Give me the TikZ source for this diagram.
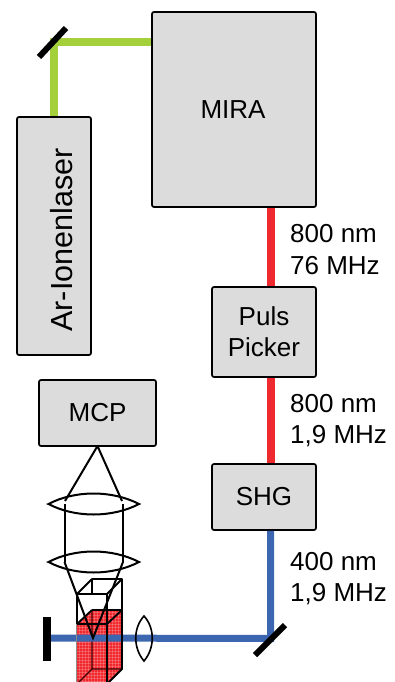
\documentclass[tikz,border=0pt]{standalone}
\usepackage{fontspec}
\setmainfont{Liberation Sans}
\begin{document}
\begin{tikzpicture}[x=1pt,y=-1pt,
  box/.style={draw=black,fill=boxgray,line width=1.7pt,rounded corners=2pt},
  boxlabel/.style={font=\fontsize{26}{31}\selectfont,align=center,text=black},
  beamlabel/.style={font=\fontsize{26}{31.5}\selectfont,align=left,anchor=west,inner sep=0pt,text=black},
  greenbeam/.style={draw=beamgreen,line width=7.5pt},
  redbeam/.style={draw=beamred,line width=8pt},
  bluebeam/.style={draw=beamblue,line width=7pt},
  mirror/.style={draw=black,line width=6pt},
  optic/.style={draw=black,line width=2pt},
  cuv/.style={draw=black,line width=1.9pt,line join=round}]
\definecolor{boxgray}{HTML}{DCDCDC}
\definecolor{beamgreen}{HTML}{A4D03C}
\definecolor{beamred}{HTML}{EE2A2E}
\definecolor{beamblue}{HTML}{3C66B0}
\definecolor{liquid}{HTML}{F0282E}
\useasboundingbox (0,0) rectangle (395,682);
\clip (0,0) rectangle (395,682);
\coordinate (mtop) at (54,42);
\coordinate (mbot) at (270.5,638.5);
\coordinate (mtopa) at (39,57);
\coordinate (mtopb) at (66,28);
\coordinate (mbota) at (255,655);
\coordinate (mbotb) at (285,625);
\coordinate (stop) at (50,638);
\node[box,minimum width=164pt,minimum height=195pt,inner sep=0pt] (mira) at (234,109.5) {};
\node[box,minimum width=74pt,minimum height=238pt,inner sep=0pt] (ar) at (54,236) {};
\node[box,minimum width=104pt,minimum height=90pt,inner sep=0pt] (puls) at (264,332) {};
\node[box,minimum width=104pt,minimum height=66pt,inner sep=0pt] (shg) at (264,497) {};
\node[box,minimum width=117pt,minimum height=66pt,inner sep=0pt] (mcp) at (97.5,413) {};
\draw[greenbeam] (54,116.2) -- (mtop) -- (151.2,42);
\draw[redbeam] (270.5,207.8) -- (270.5,286.2);
\draw[redbeam] (270.5,377.8) -- (270.5,463.2);
% cuvette liquid
\fill[liquid] (77,624) -- (92,610) -- (122,610) -- (122,669) -- (107,684) -- (77,684) -- cycle;
\begin{scope}
\clip (77,624) -- (92,610) -- (122,610) -- (122,669) -- (107,684) -- (77,684) -- cycle;
\foreach \i in {0,...,16} {\draw[white,opacity=.2,line width=.6pt] ({76+3*\i},605) -- ({76+3*\i},690);}
\foreach \i in {0,...,28} {\draw[white,opacity=.2,line width=.6pt] (70,{606+3*\i}) -- (130,{606+3*\i});}
\end{scope}
% cuvette back edges
\draw[cuv,line width=1.2pt,black!75!red] (92,610) -- (92,669) -- (122,669) (92,669) -- (77,684);
\draw[cuv] (92,610) -- (122,610) (77,624) -- (92,610) (107,624) -- (122,610);
\draw[cuv] (77,624) -- (107,624);
% blue beam
\draw[bluebeam] (270.5,530.8) -- (mbot) -- (stop);
% cuvette frame
\draw[cuv] (92,594) -- (92,579) -- (122,579) -- (122,669) -- (107,684);
\draw[cuv] (77,594) -- (92,579) (107,594) -- (122,579);
\draw[cuv] (107,594) -- (77,594) (107,594) -- (107,690);
\draw[draw=black,line width=1.2pt] (77,594) -- (77,624);
\draw[draw=black!45,line width=1.4pt] (76.5,624) -- (76.5,690);
% optics
\draw[optic] (97.5,446) -- (65,501) (97.5,446) -- (122,501);
\draw[optic] (64.5,504) -- (64.5,562) (123,504) -- (123,562);
\draw[optic] (64.5,562) -- (93,638) -- (123,562);
\foreach \cy in {504,562} {
  \draw[optic] (48.5,\cy) .. controls (75,{\cy-14}) and (112,{\cy-14}) .. (139,\cy) .. controls (112,{\cy+14}) and (75,{\cy+14}) .. (48.5,\cy) -- cycle;
}
\draw[optic,line width=1.6pt] (144,616) .. controls (155,628) and (155,648) .. (144,661) .. controls (133,648) and (133,628) .. (144,616) -- cycle;
% mirrors and stop
\draw[mirror] (mtopa) -- (mtopb);
\draw[mirror] (mbota) -- (mbotb);
\fill[black] (43,617) rectangle (51,661);
% labels
\node[boxlabel] (miral) at (mira.center) [xshift=-1pt,yshift=-0.5pt] {MIRA};
\node[boxlabel,rotate=90,font=\fontsize{30.5}{34}\selectfont] (arl) at (61.5,240) {Ar-Ionenlaser};
\node[boxlabel] (pulsl) at (puls.center) {Puls\hspace{4pt}\\Picker};
\node[boxlabel] (shgl) at (shg.center) {SHG};
\node[boxlabel] (mcpl) at (mcp.center) {MCP};
\node[beamlabel] (l1) at (290,249.5) {800 nm\\76 MHz};
\node[beamlabel] (l2) at (290,420.5) {800 nm\\1,9 MHz};
\node[beamlabel] (l3) at (290,578.5) {400 nm\\1,9 MHz};
\end{tikzpicture}
\end{document}
